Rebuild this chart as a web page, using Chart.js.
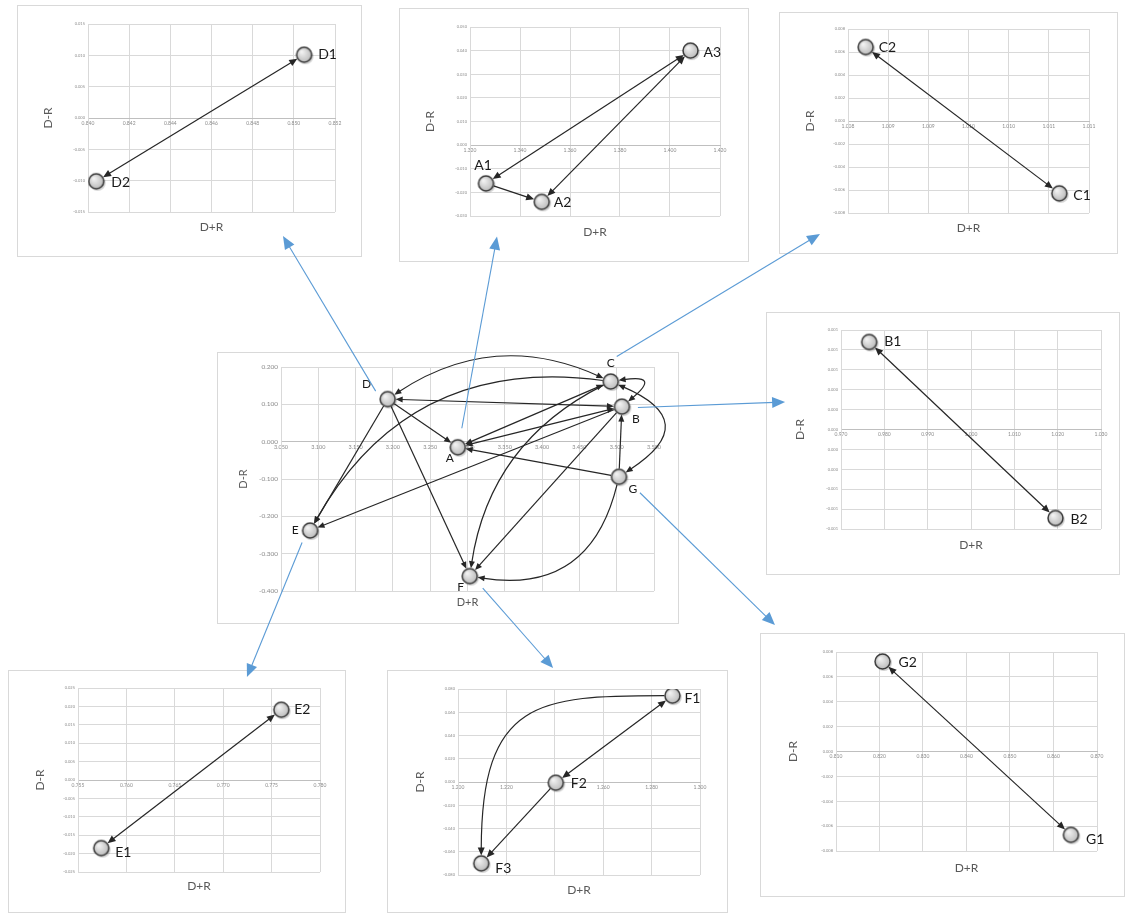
<!DOCTYPE html>
<html><head><meta charset="utf-8">
<script src="https://cdn.jsdelivr.net/npm/chart.js@4.4.1/dist/chart.umd.min.js"></script>
<style>
html,body{margin:0;padding:0;background:#fff;width:1129px;height:915px;overflow:hidden;position:relative;}
.frame{position:absolute;border:1px solid #d9d9d9;box-sizing:border-box;background:#fff;}
canvas.ch{position:absolute;}
#overlay{position:absolute;left:0;top:0;pointer-events:none;z-index:5;}
</style></head><body>
<canvas id="overlay" width="1129" height="915"></canvas>
<script>
// ================= DATA =================
// Central chart (aggregate criteria)
const mainNames = ['A','B','C','D','E','F','G'];
const mainX = [3.287, 3.507, 3.492, 3.193, 3.089, 3.303, 3.503];
const mainY = [-0.015, 0.094, 0.161, 0.114, -0.238, -0.360, -0.094];
const mainEdges = [
  ['D','C','both'], ['D','B','both'], ['D','A','end'], ['D','E','end'], ['D','F','end'],
  ['A','C','both'], ['A','B','both'], ['B','E','end'], ['G','A','end'], ['G','B','end'],
  ['B','F','end'], ['C','E','end'], ['C','F','end'], ['G','F','end'], ['C','B','both'], ['C','G','both']
];
const mainXTicks = ['3.050','3.100','3.150','3.200','3.250','3.300','3.350','3.400','3.450','3.500','3.550'];
const mainYTicks = ['-0.400','-0.300','-0.200','-0.100','0.000','0.100','0.200'];

// Panel D
const dNames = ['D1','D2'];
const dX = [0.8505, 0.8404];
const dY = [0.0101, -0.0101];
const dEdges = [['D1','D2','both']];
const dXTicks = ['0.840','0.842','0.844','0.846','0.848','0.850','0.852'];
const dYTicks = ['-0.015','-0.010','-0.005','0.000','0.005','0.010','0.015'];

// Panel A
const aNames = ['A1','A2','A3'];
const aX = [1.3264, 1.3487, 1.4082];
const aY = [-0.0162, -0.0240, 0.0400];
const aEdges = [['A1','A2','end'], ['A1','A3','both'], ['A2','A3','both']];
const aXTicks = ['1.320','1.340','1.360','1.380','1.400','1.420'];
const aYTicks = ['-0.030','-0.020','-0.010','0.000','0.010','0.020','0.030','0.040','0.050'];

// Panel C
const cNames = ['C1','C2'];
const cX = [1.01063, 1.00822];
const cY = [-0.00629, 0.00643];
const cEdges = [['C1','C2','both']];
const cXTicks = ['1.008','1.009','1.009','1.010','1.010','1.011','1.011'];
const cYTicks = ['-0.008','-0.006','-0.004','-0.002','0.000','0.002','0.004','0.006','0.008'];

// Panel B
const bNames = ['B1','B2'];
const bX = [0.9765, 1.0195];
const bY = [0.00088, -0.00089];
const bEdges = [['B1','B2','both']];
const bXTicks = ['0.970','0.980','0.990','1.000','1.010','1.020','1.030'];
const bYTicks = ['-0.001','-0.001','-0.001','0.000','0.000','0.000','0.000','0.000','0.001','0.001','0.001'];

// Panel E
const eNames = ['E1','E2'];
const eX = [0.7574, 0.7760];
const eY = [-0.0185, 0.0191];
const eEdges = [['E1','E2','both']];
const eXTicks = ['0.755','0.760','0.765','0.770','0.775','0.780'];
const eYTicks = ['-0.025','-0.020','-0.015','-0.010','-0.005','0.000','0.005','0.010','0.015','0.020','0.025'];

// Panel F
const fNames = ['F1','F2','F3'];
const fX = [1.2886, 1.2404, 1.2096];
const fY = [0.0743, -0.0006, -0.0700];
const fEdges = [['F1','F2','both'], ['F2','F3','end'], ['F1','F3','end']];
const fXTicks = ['1.200','1.220','1.240','1.260','1.280','1.300'];
const fYTicks = ['-0.080','-0.060','-0.040','-0.020','0.000','0.020','0.040','0.060','0.080'];

// Panel G
const gNames = ['G1','G2'];
const gX = [0.8640, 0.8207];
const gY = [-0.0067, 0.00724];
const gEdges = [['G1','G2','both']];
const gXTicks = ['0.810','0.820','0.830','0.840','0.850','0.860','0.870'];
const gYTicks = ['-0.008','-0.006','-0.004','-0.002','0.000','0.002','0.004','0.006','0.008'];

// ================= STYLE / LAYOUT =================
const FONT = 'Lato, "Open Sans", "Liberation Sans", sans-serif';
const curveBend = { 'D-C':-0.277, 'C-E':0.338, 'C-F':0.26, 'G-F':-0.46, 'C-B':-1.8, 'C-G':-0.94 };
const curveElbow = { 'F1-F3':[0.7, 0.02] };
const labelPos = {
  D:[-21,-15,'center'], C:[0,-18,'center'], B:[14,13,'center'], A:[-8,11,'center'],
  G:[14,12,'center'], E:[-15,0,'center'], F:[-9,11,'center'],
  D1:[14,0,'left'], D2:[15,1,'left'], A1:[-3,-18,'center'], A2:[12,1,'left'], A3:[13,2,'left'],
  C1:[14,2,'left'], C2:[13,0,'left'], B1:[15,0,'left'], B2:[15,1,'left'],
  E1:[14,4,'left'], E2:[13,0,'left'], F1:[12,3,'left'], F2:[15,1,'left'], F3:[14,5,'left'],
  G1:[15,5,'left'], G2:[16,1,'left']
};

// marker image (grey bead with soft shadow, Excel-like)
function makeMarker(r){
  const s=Math.ceil(r*2+8), c=document.createElement('canvas');c.width=s;c.height=s;
  const x=c.getContext('2d'), m=s/2;
  x.beginPath();x.arc(m+1.3,m+1.5,r+0.6,0,Math.PI*2);x.fillStyle='rgba(0,0,0,0.18)';x.fill();
  const g=x.createRadialGradient(m-r*0.35,m-r*0.4,r*0.1,m,m,r);
  g.addColorStop(0,'#f2f2f2');g.addColorStop(1,'#bcbcbc');
  x.beginPath();x.arc(m,m,r,0,Math.PI*2);x.fillStyle=g;x.fill();
  x.lineWidth=1.5;x.strokeStyle='#3a3a3a';x.stroke();
  return c;
}

function unit(x,y){const l=Math.hypot(x,y)||1;return [x/l,y/l];}
function head(ctx,x,y,ang,len,wid,color){
  ctx.save();ctx.translate(x,y);ctx.rotate(ang);
  ctx.beginPath();ctx.moveTo(0,0);ctx.lineTo(-len,wid/2);ctx.lineTo(-len,-wid/2);ctx.closePath();
  ctx.fillStyle=color;ctx.fill();ctx.restore();
}
function drawEdge(ctx,p0,p2,heads,bend,elbow,r,hl,hw,color,lw){
  let c1=null,c2=null;
  if(elbow){
    c1=[p0[0]+elbow[0]*(p2[0]-p0[0]),p0[1]];
    c2=[p2[0],p0[1]+elbow[1]*(p2[1]-p0[1])];
  } else if(bend){
    const dx=p2[0]-p0[0],dy=p2[1]-p0[1];
    c1=c2=[(p0[0]+p2[0])/2-bend*dy,(p0[1]+p2[1])/2+bend*dx];
  }
  const ds=c1?unit(c1[0]-p0[0],c1[1]-p0[1]):unit(p2[0]-p0[0],p2[1]-p0[1]);
  const de=c2?unit(c2[0]-p2[0],c2[1]-p2[1]):unit(p0[0]-p2[0],p0[1]-p2[1]);
  const s=[p0[0]+ds[0]*r,p0[1]+ds[1]*r], e=[p2[0]+de[0]*r,p2[1]+de[1]*r];
  const both=heads==='both';
  const ls=both?[s[0]+ds[0]*hl*0.7,s[1]+ds[1]*hl*0.7]:s;
  const le=[e[0]+de[0]*hl*0.7,e[1]+de[1]*hl*0.7];
  ctx.save();ctx.strokeStyle=color;ctx.lineWidth=lw;ctx.beginPath();ctx.moveTo(ls[0],ls[1]);
  if(elbow)ctx.bezierCurveTo(c1[0],c1[1],c2[0],c2[1],le[0],le[1]);
  else if(c1)ctx.quadraticCurveTo(c1[0],c1[1],le[0],le[1]);
  else ctx.lineTo(le[0],le[1]);
  ctx.stroke();ctx.restore();
  head(ctx,e[0],e[1],Math.atan2(-de[1],-de[0]),hl,hw,color);
  if(both)head(ctx,s[0],s[1],Math.atan2(-ds[1],-ds[0]),hl,hw,color);
}

const panels = [
  {key:'main', box:[217,352,462,272], plot:[281,367,654,591], yW:32, xr:[3.05,3.55,0.05], yr:[-0.4,0.2,0.1],
   xt:mainXTicks, yt:mainYTicks, names:mainNames, xs:mainX, ys:mainY, edges:mainEdges,
   xFont:5.5, yFont:6.5, labFont:12, titleFont:11, titleDx:38, titleDy:11, r:7.5, hl:7, hw:6},
  {key:'D', box:[17,5,345,252], plot:[88,24,335,212], yW:24, xr:[0.840,0.852,0.002], yr:[-0.015,0.015,0.005],
   xt:dXTicks, yt:dYTicks, names:dNames, xs:dX, ys:dY, edges:dEdges, titleDx:40, titleDy:15},
  {key:'A', box:[399,8,350,254], plot:[470,27,720,216], yW:24, xr:[1.32,1.42,0.02], yr:[-0.03,0.05,0.01],
   xt:aXTicks, yt:aYTicks, names:aNames, xs:aX, ys:aY, edges:aEdges, titleDx:40, titleDy:16},
  {key:'C', box:[779,12,339,242], plot:[848,29,1089,213], yW:24, xr:[1.008,1.011,0.0005], yr:[-0.008,0.008,0.002],
   xt:cXTicks, yt:cYTicks, names:cNames, xs:cX, ys:cY, edges:cEdges, titleDx:38, titleDy:15},
  {key:'B', box:[766,312,354,263], plot:[841,330,1101,529], yW:24, xr:[0.97,1.03,0.01], yr:[-0.001,0.001,0.0002],
   xt:bXTicks, yt:bYTicks, names:bNames, xs:bX, ys:bY, edges:bEdges, titleDx:41, titleDy:16},
  {key:'E', box:[8,670,338,243], plot:[78,688,320,872], yW:24, xr:[0.755,0.78,0.005], yr:[-0.025,0.025,0.005],
   xt:eXTicks, yt:eYTicks, names:eNames, xs:eX, ys:eY, edges:eEdges, titleDx:38, titleDy:14},
  {key:'F', box:[387,670,341,243], plot:[458,689,700,875], yW:24, xr:[1.2,1.3,0.02], yr:[-0.08,0.08,0.02],
   xt:fXTicks, yt:fYTicks, names:fNames, xs:fX, ys:fY, edges:fEdges, titleDx:38, titleDy:15},
  {key:'G', box:[760,633,365,264], plot:[836,652,1097,851], yW:24, xr:[0.81,0.87,0.01], yr:[-0.008,0.008,0.002],
   xt:gXTicks, yt:gYTicks, names:gNames, xs:gX, ys:gY, edges:gEdges, titleDx:43, titleDy:17}
];

const charts = {};
panels.forEach(P=>{
  const [bx,by,bw,bh]=P.box, [pl,pt,pr,pb]=P.plot;
  const fr=document.createElement('div');fr.className='frame';
  Object.assign(fr.style,{left:bx+'px',top:by+'px',width:bw+'px',height:bh+'px'});
  document.body.appendChild(fr);
  const cv=document.createElement('canvas');cv.className='ch';cv.width=bw;cv.height=bh;
  Object.assign(cv.style,{left:bx+'px',top:by+'px',width:bw+'px',height:bh+'px'});
  document.body.appendChild(cv);
  const r=P.r||7.5, hl=P.hl||8, hw=P.hw||7;
  const marker=makeMarker(r);
  const idx={};P.names.forEach((n,i)=>idx[n]=i);
  const plug={
    id:'deco'+P.key,
    beforeDatasetsDraw(chart){
      const ctx=chart.ctx, meta=chart.getDatasetMeta(0);
      P.edges.forEach(([a,b,h])=>{
        const pa=meta.data[idx[a]], pbb=meta.data[idx[b]];
        const key=a+'-'+b;
        drawEdge(ctx,[pa.x,pa.y],[pbb.x,pbb.y],h,curveBend[key]||0,curveElbow[key]||null,r+0.5,hl,hw,'#262626',1.2);
      });
    },
    afterDatasetsDraw(chart){
      const ctx=chart.ctx, meta=chart.getDatasetMeta(0), ca=chart.chartArea;
      ctx.save();
      ctx.font=(P.labFont||14)+'px '+FONT;ctx.fillStyle='#1a1a1a';ctx.textBaseline='middle';
      P.names.forEach((n,i)=>{
        const el=meta.data[i], lp=labelPos[n];
        ctx.textAlign=lp[2];ctx.fillText(n,el.x+lp[0],el.y+lp[1]);
      });
      ctx.fillStyle='#595959';ctx.font=(P.titleFont||12)+'px '+FONT;
      ctx.textAlign='center';ctx.textBaseline='middle';
      ctx.fillText('D+R',(ca.left+ca.right)/2,ca.bottom+P.titleDy);
      ctx.translate(ca.left-P.titleDx,(ca.top+ca.bottom)/2);ctx.rotate(-Math.PI/2);
      ctx.fillText('D-R',0,0);
      ctx.restore();
    }
  };
  charts[P.key]=new Chart(cv,{
    type:'scatter',
    data:{datasets:[{data:P.xs.map((x,i)=>({x:x,y:P.ys[i]})),
      pointStyle:marker,pointRadius:r,pointHoverRadius:r,pointBackgroundColor:'#d4d4d4',pointBorderColor:'#3a3a3a',pointBorderWidth:1.5}]},
    options:{
      responsive:false,animation:false,events:[],
      layout:{padding:{left:pl-bx-P.yW,top:pt-by,right:bx+bw-pr,bottom:by+bh-pb}},
      plugins:{legend:{display:false},tooltip:{enabled:false}},
      scales:{
        x:{type:'linear',position:{y:0},min:P.xr[0],max:P.xr[1],
          ticks:{stepSize:P.xr[2],autoSkip:false,maxRotation:0,padding:2,color:'#8c8c8c',
            font:{size:P.xFont||5,family:FONT},callback:(v,i)=>P.xt[i]},
          grid:{color:'#d9d9d9',lineWidth:1,drawTicks:false},border:{color:'#bfbfbf',width:1},
          afterFit:s=>{s.paddingLeft=0;s.paddingRight=0;}},
        y:{type:'linear',position:'left',min:P.yr[0],max:P.yr[1],
          ticks:{stepSize:P.yr[2],autoSkip:false,padding:3,color:'#8c8c8c',
            font:{size:P.yFont||4,family:FONT},callback:(v,i)=>P.yt[i]},
          grid:{color:'#d9d9d9',lineWidth:1,drawTicks:false},border:{color:'#d9d9d9',width:1},
          afterFit:s=>{s.width=P.yW;s.paddingTop=0;s.paddingBottom=0;}}
      }
    },
    plugins:[plug]
  });
});

// Blue connectors from central nodes to detail panels
const connectors = [
  {node:'D', panel:'D', off:[-12,-8], tip:[0.771,0.917]},
  {node:'A', panel:'A', off:[4,-19], tip:[0.28,0.90]},
  {node:'C', panel:'C', off:[6,-25], tip:[0.121,0.917]},
  {node:'B', panel:'B', off:[16,1], tip:[0.054,0.342]},
  {node:'G', panel:'G', off:[21,16], tip:[0.041,-0.03]},
  {node:'F', panel:'F', off:[13,12], tip:[0.487,-0.008]},
  {node:'E', panel:'E', off:[-8,12], tip:[0.707,0.029]}
];
(function(){
  const ov=document.getElementById('overlay'), ctx=ov.getContext('2d');
  const mainP=panels[0], meta=charts.main.getDatasetMeta(0);
  const boxOf={};panels.forEach(p=>boxOf[p.key]=p.box);
  connectors.forEach(c=>{
    const el=meta.data[mainNames.indexOf(c.node)];
    const sx=mainP.box[0]+el.x+c.off[0], sy=mainP.box[1]+el.y+c.off[1];
    const b=boxOf[c.panel];
    const tx=b[0]+b[2]*c.tip[0], ty=b[1]+b[3]*c.tip[1];
    const u=unit(tx-sx,ty-sy), hl=13;
    ctx.strokeStyle='#5b9bd5';ctx.lineWidth=1.1;ctx.beginPath();
    ctx.moveTo(sx,sy);ctx.lineTo(tx-u[0]*hl*0.8,ty-u[1]*hl*0.8);ctx.stroke();
    head(ctx,tx,ty,Math.atan2(u[1],u[0]),hl,11,'#5b9bd5');
  });
})();
</script>
</body></html>
